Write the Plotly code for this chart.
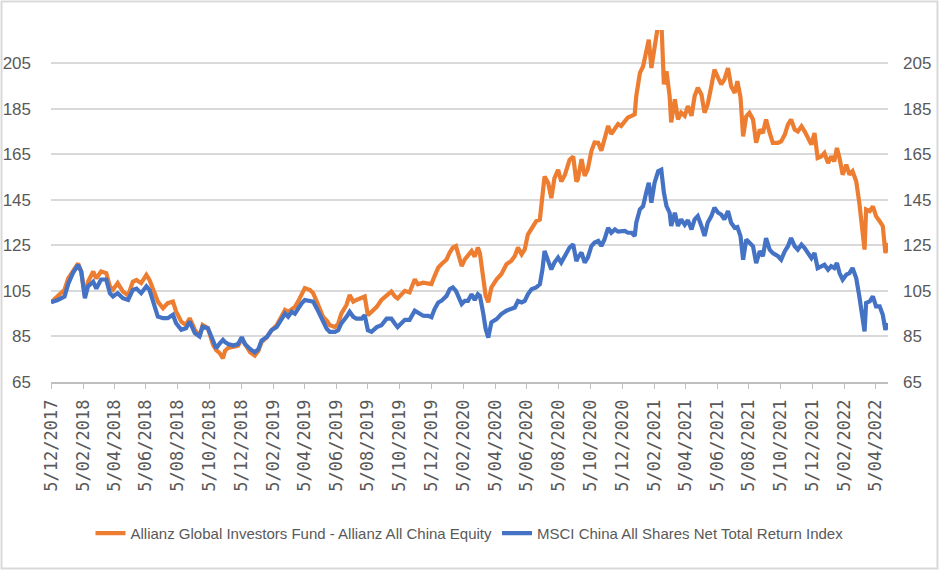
import pandas as pd
import plotly.graph_objects as go

start_date = "2017-12-05"

# days since 5/12/2017
days = [0, 13, 26, 33, 42, 52, 58, 65, 71, 81, 87, 96, 106, 113, 119, 128, 138, 148, 157, 164,
        173, 183, 189, 199, 205, 215, 224, 234, 240, 250, 259, 266, 276, 285, 291, 301, 311, 317, 324, 330,
        334, 340, 350, 359, 366, 372, 382, 391, 398, 404, 414, 423, 433, 442, 449, 455, 462, 468, 474, 481,
        487, 497, 503, 510, 516, 522, 529, 535, 545, 551, 557, 567, 573, 580, 586, 596, 602, 608, 615, 625,
        634, 644, 653, 660, 665,
        679, 688, 698, 704, 714, 724, 730, 736, 743, 749, 759, 765, 771, 777, 781, 788, 794, 800, 807, 813,
        819, 823, 829, 834, 839, 845, 855, 864, 874, 883, 890, 896, 903, 909, 915, 922, 931, 938, 943, 947,
        954, 960, 966, 973, 979, 986, 995, 1002, 1008,
        1011, 1018, 1024, 1030, 1037, 1043, 1050, 1056, 1062, 1069, 1075, 1082, 1088, 1094, 1101, 1107, 1114,
        1120, 1123, 1130, 1136, 1142, 1147, 1152, 1158, 1165, 1171, 1176, 1181, 1187, 1190, 1197, 1203, 1209,
        1216, 1222, 1229, 1235, 1241, 1248, 1254, 1260, 1267, 1273, 1280, 1286, 1292, 1299, 1305, 1312, 1317, 1323,
        1328, 1334, 1340, 1347, 1353, 1360, 1366, 1372, 1379, 1385, 1395, 1401, 1408, 1414, 1420, 1427, 1433,
        1440, 1446, 1452, 1459, 1465, 1471, 1478, 1484, 1491, 1497, 1503, 1508, 1513, 1519, 1526, 1532, 1538,
        1545, 1551, 1556, 1561, 1564, 1571, 1577, 1583, 1590, 1596, 1601, 1606]

allianz = [100, 103, 105.5, 110.5, 113.5, 117, 113.5, 103, 109, 113.5, 110.5, 113.5, 112.8, 107, 105.5, 108.4,
           104.7, 103, 109, 109.8, 108.4, 112, 109.8, 103, 100.3, 97.4, 99.6, 100.3, 96, 91.5, 90, 93, 88, 85,
           90, 88.6, 81.3, 79, 77.6, 75.4,
           78.7, 80, 80.3, 81, 84, 81.7, 78, 76.6, 78.7, 82.5, 84.7, 87.7, 89.9, 93.6, 96.6, 95.8, 97.3, 98,
           100.3, 103.2, 106.2, 105.4, 104, 100.3, 96.6, 93.6, 92, 89.9, 89.1, 90.6, 95, 98.8, 103.2, 100.3,
           101, 101.7, 102.5, 94.3, 95.8, 98, 101, 103.2, 104.7, 102.5, 101.7,
           105, 104.3, 110.1, 107.9, 108.6, 108, 108, 111.5, 115.2, 116.7, 118.8, 121.8, 124, 124.7, 121,
           115.9, 118.8, 120.3, 122.5, 120, 124, 121.5, 110.1, 102.8, 100, 106.5, 110.1, 112.3, 116.7, 118.1,
           120.3, 124, 121, 123.2, 129.7, 132.7, 135.6, 136.3, 145, 155.2, 152.3, 145.7, 154.5, 158.1, 153,
           155.9, 162.5, 164, 153,
           154, 162.8, 155.5, 158.4, 166.5, 170.1, 170, 166.5, 171.6, 177.4, 173.8, 176, 178.2, 177.4, 179.6,
           181.1, 181.8, 182.5, 190.5, 200.7, 203.5, 209.4, 215.2, 202.8, 212.3, 222, 224, 195.6, 201.4, 190.5,
           178.9, 189.1, 180.3, 183.2, 181.8, 186.1, 181.8, 190.5, 194.1, 191.2, 183.2, 186.8, 194.8, 202.1,
           198.5, 195.6, 197.7, 202.8, 194.8, 191.9, 197, 190,
           172.8, 181.6, 183.1, 180.2, 170, 175.8, 174.3, 180.2, 174.3, 170, 170, 170.6, 173.6, 178, 180.2,
           175.8, 175, 177.2, 175, 172.1, 169.2, 174.3, 163.3, 164, 165.5, 161.1, 164, 161.8, 167.7, 163.3,
           156, 160.4, 156, 157.5, 153.1, 143.6, 133.4, 123.1, 140.7, 140, 142.1, 137.8, 135.6, 133.4, 121.6, 126]

msci = [100, 101, 102.5, 108, 112.8, 116.4, 113.5, 101.8, 107, 109, 106, 110, 110, 104, 102.5, 104, 101.8, 101,
        105.4, 106, 104, 107, 105.4, 98.8, 93.7, 93, 93, 94.5, 90.8, 87.9, 88.6, 91.5, 86.5, 85, 89.3, 88.6,
        82.7, 79.8, 82, 83.5,
        82.5, 81.7, 81, 81.7, 84.7, 81.7, 79.5, 78, 79.5, 83.2, 84.7, 87.7, 89.1, 92.8, 95, 93.6, 95.8, 95,
        97.3, 99.5, 101, 100.3, 100.3, 97.3, 94.3, 91.4, 88.4, 87, 87, 87.7, 90.7, 93.6, 95.8, 93.6, 92.8,
        92.8, 94.3, 87.7, 87, 89.1, 89.9, 92.8, 92.8, 90.6, 89.1,
        92.3, 92.3, 96.3, 95.6, 94.1, 94, 93.4, 97, 99.9, 100.6, 102.8, 105.7, 106.5, 105, 102.8, 99.2, 100.6,
        100.6, 103.5, 101, 103.5, 102.8, 95.6, 88.3, 84.5, 91.2, 92.6, 94.8, 96.3, 97, 97.7, 100.6, 99.9,
        100.6, 103.5, 105.7, 106.5, 107.9, 114.4, 122.5, 118.1, 114.4, 117.4, 119.6, 117.4, 120.3, 124, 125.4,
        118.1,
        119.6, 121.8, 117.4, 119.6, 124.7, 126.2, 126.9, 124.7, 127.6, 132.7, 130.5, 132, 131, 131.3, 131.3,
        130.5, 130.5, 129.1, 134.9, 140.8, 142.2, 148.1, 152.4, 143.7, 152.4, 157.5, 158.2, 148.1, 142.2,
        139.3, 133.5, 139.3, 133.5, 136.4, 134, 136, 132, 136.4, 137.8, 133.5, 129.1, 134.9, 137.8, 141.5,
        139.3, 138.5, 136.4, 140, 134.9, 132.7, 133, 129,
        118.7, 127.5, 126, 124.6, 117.2, 122.4, 120.2, 128.2, 123.1, 121.6, 120.2, 118.7, 122.4, 124.6, 128.2,
        124.6, 123.1, 125.3, 123.8, 121.6, 119.4, 121.6, 115, 115.8, 116.5, 114.3, 115.8, 115, 117.2, 112.8,
        109.9, 112.1, 112.8, 115, 110.6, 102.6, 95.3, 87.2, 99.7, 100.4, 102.6, 98.2, 98.2, 94.5, 87.9, 90.8]

series_names = ["Allianz Global Investors Fund - Allianz All China Equity",
                "MSCI China All Shares Net Total Return Index"]

tick_dates = ["2017-12-05", "2018-02-05", "2018-04-05", "2018-06-05", "2018-08-05", "2018-10-05",
              "2018-12-05", "2019-02-05", "2019-04-05", "2019-06-05", "2019-08-05", "2019-10-05",
              "2019-12-05", "2020-02-05", "2020-04-05", "2020-06-05", "2020-08-05", "2020-10-05",
              "2020-12-05", "2021-02-05", "2021-04-05", "2021-06-05", "2021-08-05", "2021-10-05",
              "2021-12-05", "2022-02-05", "2022-04-05"]
tick_labels = ["5/12/2017", "5/02/2018", "5/04/2018", "5/06/2018", "5/08/2018", "5/10/2018",
               "5/12/2018", "5/02/2019", "5/04/2019", "5/06/2019", "5/08/2019", "5/10/2019",
               "5/12/2019", "5/02/2020", "5/04/2020", "5/06/2020", "5/08/2020", "5/10/2020",
               "5/12/2020", "5/02/2021", "5/04/2021", "5/06/2021", "5/08/2021", "5/10/2021",
               "5/12/2021", "5/02/2022", "5/04/2022"]
y_ticks = [65, 85, 105, 125, 145, 165, 185, 205]
y_range = [65, 219.5]

assert len(days) == len(allianz) == len(msci)

dates = pd.Timestamp(start_date) + pd.to_timedelta(days, unit="D")

ORANGE = "#ED7D31"
BLUE = "#4472C4"
GREY_TXT = "#595959"
GRID = "#D9D9D9"
SANS = "Liberation Sans, Arial, sans-serif"

fig = go.Figure()
fig.add_trace(go.Scatter(x=dates, y=allianz, mode="lines", name=series_names[0],
                         line=dict(color=ORANGE, width=4.2), yaxis="y"))
fig.add_trace(go.Scatter(x=dates, y=msci, mode="lines", name=series_names[1],
                         line=dict(color=BLUE, width=4.2), yaxis="y2"))

fig.update_layout(
    width=940, height=572,
    margin=dict(l=51, r=52, t=30, b=190),
    paper_bgcolor="white", plot_bgcolor="white",
    showlegend=True,
    legend=dict(orientation="h", x=0.5, xanchor="center", y=-0.43, yanchor="middle",
                font=dict(family=SANS, size=15, color=GREY_TXT), itemwidth=30,
                bgcolor="rgba(0,0,0,0)"),
    xaxis=dict(type="date", range=[dates[0], dates[-1]], automargin=False,
               tickvals=tick_dates, ticktext=tick_labels, tickangle=-90,
               tickfont=dict(family="DejaVu Sans Mono", size=17, color=GREY_TXT),
               ticks="outside", ticklen=5, tickcolor="#BFBFBF", tickwidth=1,
               showline=True, linecolor="#BFBFBF", linewidth=1.5,
               showgrid=False, zeroline=False, ticklabelstandoff=4),
    yaxis=dict(range=y_range, tickvals=y_ticks, ticktext=[str(v) for v in y_ticks],
               automargin=False,
               tickfont=dict(family=SANS, size=17, color=GREY_TXT),
               showgrid=True, gridcolor=GRID, gridwidth=1.5, zeroline=False,
               showline=False, ticks="", ticklabelstandoff=19),
    yaxis2=dict(range=y_range, tickvals=y_ticks, ticktext=[str(v) for v in y_ticks],
                overlaying="y", side="right", automargin=False,
                tickfont=dict(family=SANS, size=17, color=GREY_TXT),
                showgrid=False, zeroline=False, showline=False, ticks="",
                ticklabelstandoff=14),
    shapes=[dict(type="rect", xref="paper", yref="paper",
                 x0=-0.0591, x1=1.0591, y0=-0.530, y1=1.081,
                 line=dict(color=GRID, width=2), fillcolor="rgba(0,0,0,0)", layer="below")],
)

fig.write_html("out.html", config={"displayModeBar": False},
               post_script="document.body.style.margin='0';document.body.style.overflow='hidden';")
